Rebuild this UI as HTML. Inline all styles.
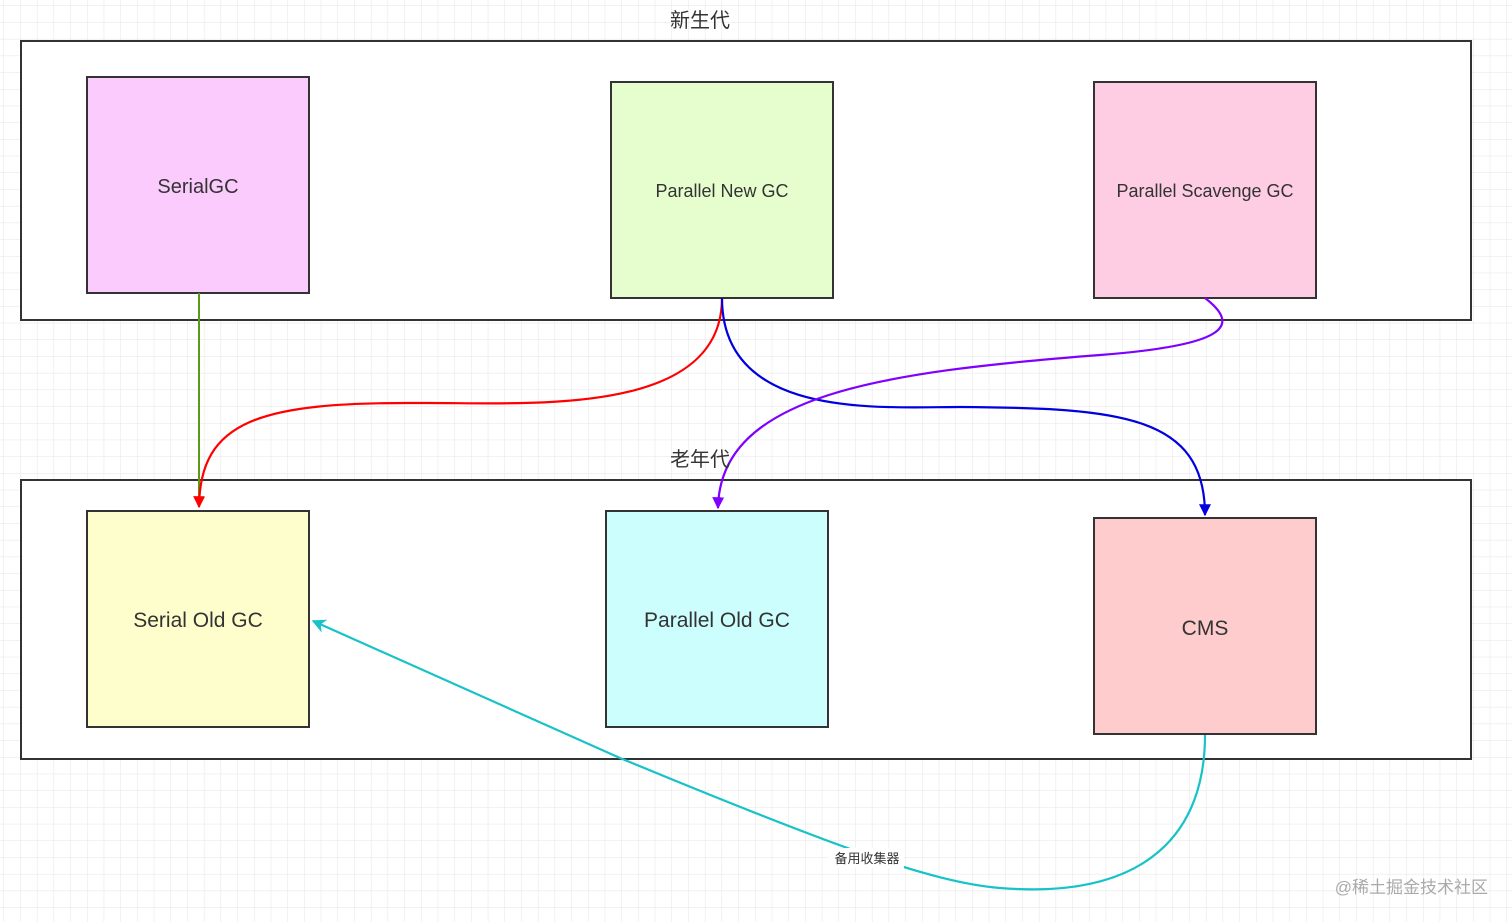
<!DOCTYPE html>
<html><head><meta charset="utf-8"><style>
html,body{margin:0;padding:0;background:#fff}
svg{display:block}
text{font-family:"Liberation Sans","Noto Sans CJK SC",sans-serif;fill:#333}
</style></head><body>
<svg width="1512" height="922" viewBox="0 0 1512 922" xmlns="http://www.w3.org/2000/svg">
<defs>
<pattern id="g" width="16.7" height="16.7" patternUnits="userSpaceOnUse" x="4" y="6">
<path d="M16.7 0V16.7M0 16.7H16.7" fill="none" stroke="#e4e4e4" stroke-width="1"/>
</pattern>
<marker id="ar" viewBox="0 0 10 10" refX="9" refY="5" markerWidth="12" markerHeight="12" markerUnits="userSpaceOnUse" orient="auto"><path d="M0,0L10,5L0,10z" fill="#f00"/></marker>
<marker id="ap" viewBox="0 0 10 10" refX="9" refY="5" markerWidth="12" markerHeight="12" markerUnits="userSpaceOnUse" orient="auto"><path d="M0,0L10,5L0,10z" fill="#7f00ff"/></marker>
<marker id="ab" viewBox="0 0 10 10" refX="9" refY="5" markerWidth="12" markerHeight="12" markerUnits="userSpaceOnUse" orient="auto"><path d="M0,0L10,5L0,10z" fill="#0000e0"/></marker>
<marker id="ac" viewBox="0 0 10 10" refX="9" refY="5" markerWidth="14" markerHeight="14" markerUnits="userSpaceOnUse" orient="auto"><path d="M0,0L10,5L0,10L3,5z" fill="#17c3c8"/></marker>
</defs>
<rect width="1512" height="922" fill="url(#g)"/>
<rect x="21" y="41" width="1450" height="279" fill="#fff" stroke="#333" stroke-width="2"/>
<rect x="21" y="480" width="1450" height="279" fill="#fff" stroke="#333" stroke-width="2"/>
<text x="700" y="27" font-size="20" text-anchor="middle">新生代</text>
<rect x="87" y="77" width="222" height="216" fill="#fccbfe" stroke="#333" stroke-width="2"/>
<text x="198" y="193" font-size="20" text-anchor="middle">SerialGC</text>
<rect x="611" y="82" width="222" height="216" fill="#e6fecd" stroke="#333" stroke-width="2"/>
<text x="722" y="197" font-size="18" text-anchor="middle">Parallel New GC</text>
<rect x="1094" y="82" width="222" height="216" fill="#fecde3" stroke="#333" stroke-width="2"/>
<text x="1205" y="197" font-size="18" text-anchor="middle">Parallel Scavenge GC</text>
<rect x="87" y="511" width="222" height="216" fill="#fefecc" stroke="#333" stroke-width="2"/>
<text x="198" y="627" font-size="21" text-anchor="middle">Serial Old GC</text>
<rect x="606" y="511" width="222" height="216" fill="#ccfefe" stroke="#333" stroke-width="2"/>
<text x="717" y="627" font-size="21" text-anchor="middle">Parallel Old GC</text>
<rect x="1094" y="518" width="222" height="216" fill="#fecccc" stroke="#333" stroke-width="2"/>
<text x="1205" y="635" font-size="21" text-anchor="middle">CMS</text>
<line x1="199" y1="293" x2="199" y2="507" stroke="#5a9a1a" stroke-width="2"/>
<path d="M722,298 C722,420 520,402 420,403 C260,402 200,420 199,507" fill="none" stroke="#f00" stroke-width="2.2" marker-end="url(#ar)"/>
<path d="M722,298 C722,420 880,407 960,407 C1120,408 1205,415 1205,515" fill="none" stroke="#0000e0" stroke-width="2.2" marker-end="url(#ab)"/>
<path d="M1205,298 C1240,325 1230,345 1100,355 C880,372 720,395 718,508" fill="none" stroke="#7f00ff" stroke-width="2.2" marker-end="url(#ap)"/>
<path d="M1205,735 C1205,830 1150,900 1000,888 C930,882 830,845 620,758 L313,621" fill="none" stroke="#17c3c8" stroke-width="2.2" marker-end="url(#ac)"/>
<text x="700" y="466" font-size="20" text-anchor="middle">老年代</text>
<rect x="828" y="848" width="76" height="20" fill="#fff"/>
<text x="867" y="863" font-size="13" text-anchor="middle" fill="#222">备用收集器</text>
<text x="1488" y="893" font-size="17" text-anchor="end" style="fill:#aaa">@稀土掘金技术社区</text>
</svg>
</body></html>
